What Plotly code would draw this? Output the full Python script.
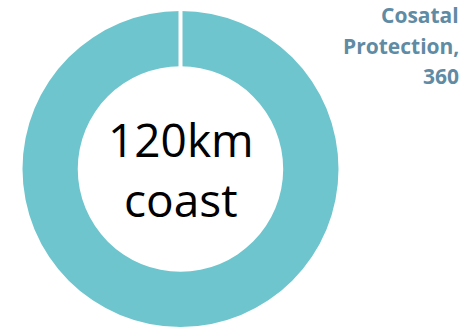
import plotly.graph_objects as go

labels = ["Cosatal Protection"]
values = [360]
center_text = ["120km", "coast"]

W, H = 459, 327
fig = go.Figure(go.Pie(
    labels=labels, values=values, hole=0.65, sort=False, direction="clockwise",
    marker=dict(colors=["#6EC5CD"], line=dict(color="white", width=0)),
    textinfo="none", hoverinfo="label+value",
    domain=dict(x=[22.5 / W, 338.5 / W], y=[0, 316 / H]),
))

label_lines = labels[0].split(" ")
label_lines[-1] += ","
label_lines.append(str(values[0]))
for i, line in enumerate(label_lines):
    fig.add_annotation(
        x=1, y=1, xref="paper", yref="paper", xanchor="right", yanchor="top",
        yshift=0 - 30.5 * i, xshift=1, borderpad=0, align="right", showarrow=False,
        text="<b>" + line + "</b>",
        font=dict(family="Open Sans", size=21, color="#5F8BA4"),
    )
fig.add_annotation(
    x=180.5 / W, y=158 / H, xref="paper", yref="paper", showarrow=False,
    text="<br>".join(center_text),
    font=dict(family="Open Sans", size=46, color="black"),
)
# white gap at the start of the ring
fig.add_shape(type="rect", xref="paper", yref="paper",
              x0=178.5 / W, x1=182.5 / W, y0=(H - 75) / H, y1=1,
              fillcolor="white", line=dict(width=0), layer="above")

fig.update_layout(width=W, height=H, margin=dict(l=0, r=0, t=0, b=0),
                  paper_bgcolor="white", plot_bgcolor="white", showlegend=False)
fig.write_html("out.html")
